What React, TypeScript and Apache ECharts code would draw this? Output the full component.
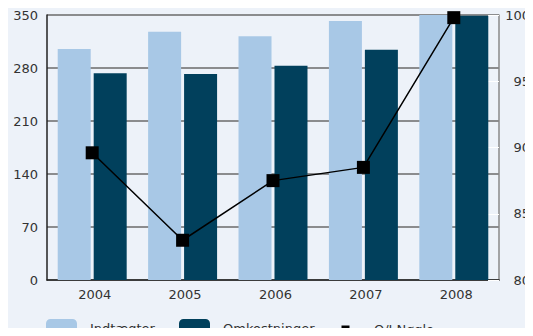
import React, { useEffect, useRef } from "react";
import * as echarts from "echarts";

const categories = ["2004", "2005", "2006", "2007", "2008"];
const indtaegter = [305, 328, 322, 342, 350];
const omkostninger = [273, 272, 283, 304, 349];
const oiNoegle = [89.6, 83.0, 87.5, 88.5, 99.8];
const leftTicks = { min: 0, max: 350, interval: 70 };
const rightTicks = { min: 80, max: 100, interval: 5 };

const FONT = "DejaVu Sans";
const TXT = "#333333";

export default function App() {
  const ref = useRef<HTMLDivElement>(null);
  useEffect(() => {
    if (!ref.current) return;
    const chart = echarts.init(ref.current, undefined, { renderer: "svg" });
    const legendBase = {
      top: 319,
      padding: 0,
      itemWidth: 31,
      itemHeight: 18,
      textStyle: { fontFamily: FONT, fontSize: 13, color: TXT, padding: [0, 0, 0, 8] },
    };
    chart.setOption({
      animation: false,
      backgroundColor: "#edf2f9",
      textStyle: { fontFamily: FONT },
      grid: { left: 47, right: 30, top: 15, bottom: 56, containLabel: false },
      legend: [
        { ...legendBase, left: 46, data: ["Indtægter"] },
        { ...legendBase, left: 179, data: ["Omkostninger"] },
        { ...legendBase, left: 329, top: 323, itemHeight: 10, data: ["O/I Nøgle"] },
      ],
      xAxis: {
        type: "category",
        data: categories,
        axisLine: { lineStyle: { color: "#222", width: 1.5 } },
        axisTick: { show: false },
        axisLabel: { fontFamily: FONT, fontSize: 13, color: TXT, margin: 8, padding: [0, 0, 0, 5] },
      },
      yAxis: [
        {
          type: "value",
          ...leftTicks,
          axisLine: { show: true, lineStyle: { color: "#222", width: 1.5 } },
          axisTick: { show: false },
          axisLabel: { fontFamily: FONT, fontSize: 13, color: TXT, margin: 9 },
          splitLine: { lineStyle: { color: "#6a6a6a", width: 1.5 } },
        },
        {
          type: "value",
          position: "right",
          ...rightTicks,
          axisLine: { show: true, lineStyle: { color: "#888", width: 1.5 } },
          axisTick: { show: true, inside: true, length: 11, lineStyle: { color: "#ffffff", width: 1 } },
          axisLabel: { fontFamily: FONT, fontSize: 13, color: TXT, margin: 31, align: "right", padding: [8, 0, 0, 0] },
          splitLine: { show: false },
        },
      ],
      series: [
        {
          name: "Indtægter",
          type: "bar",
          data: indtaegter,
          barWidth: 33,
          barGap: "9%",
          itemStyle: { color: "#a8c8e6" },
        },
        {
          name: "Omkostninger",
          type: "bar",
          data: omkostninger,
          barWidth: 33,
          itemStyle: { color: "#01405c" },
        },
        {
          name: "O/I Nøgle",
          type: "line",
          yAxisIndex: 1,
          data: oiNoegle,
          symbol: "rect",
          symbolSize: 13,
          lineStyle: { color: "#000", width: 1.5 },
          itemStyle: { color: "#000" },
          z: 5,
        },
      ],
    });
    return () => chart.dispose();
  }, []);
  return <div ref={ref} style={{ width: 533, height: 336, margin: -8 }} />;
}
